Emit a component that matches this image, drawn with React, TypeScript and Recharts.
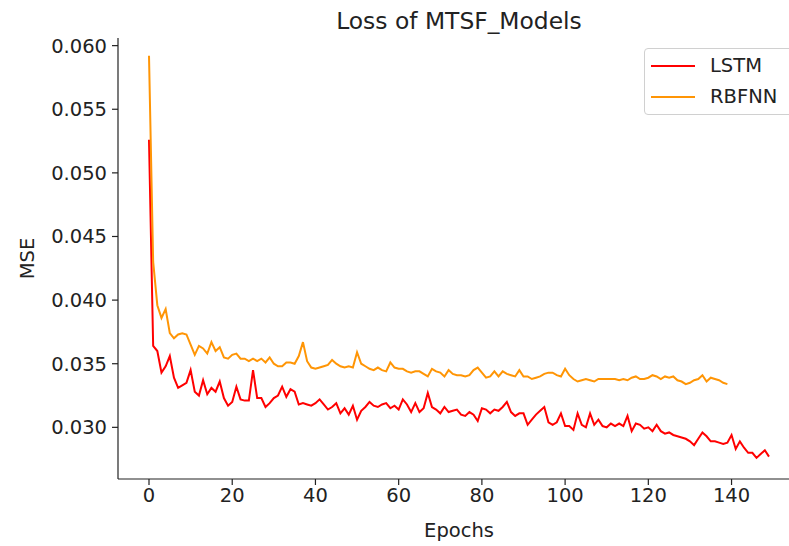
import React from "react";
import { LineChart, Line, XAxis, YAxis } from "recharts";

const lstm: number[] = [
  0.0526, 0.0364, 0.036, 0.0343, 0.0348, 0.0356, 0.0339, 0.0331, 0.0333, 0.0335,
  0.0345, 0.0328, 0.0325, 0.0337, 0.0326, 0.0331, 0.0328, 0.0336, 0.0323, 0.0317,
  0.032, 0.0332, 0.0322, 0.0321, 0.0321, 0.0345, 0.0323, 0.0323, 0.0316, 0.0319,
  0.0323, 0.0325, 0.0332, 0.0324, 0.033, 0.0328, 0.0318, 0.0319, 0.0318, 0.0317,
  0.0319, 0.0322, 0.0318, 0.0314, 0.0316, 0.0319, 0.0311, 0.0315, 0.031, 0.0317,
  0.0306, 0.0313, 0.0316, 0.032, 0.0317, 0.0316, 0.0318, 0.0319, 0.0315, 0.0317,
  0.0314, 0.0322, 0.0318, 0.0312, 0.0319, 0.0312, 0.0315, 0.0327, 0.0316, 0.0314,
  0.0311, 0.0316, 0.0312, 0.0313, 0.0314, 0.031, 0.0309, 0.0312, 0.031, 0.0305,
  0.0315, 0.0314, 0.0311, 0.0314, 0.0313, 0.0316, 0.032, 0.0312, 0.0309, 0.0311,
  0.0311, 0.0302, 0.0306, 0.031, 0.0313, 0.0316, 0.0304, 0.0302, 0.0304, 0.0311,
  0.0301, 0.0301, 0.0298, 0.0311, 0.0302, 0.03, 0.0311, 0.0302, 0.0306, 0.0301,
  0.03, 0.0303, 0.0301, 0.0303, 0.0301, 0.0309, 0.0297, 0.0303, 0.0302, 0.0299,
  0.03, 0.0297, 0.0302, 0.0297, 0.0295, 0.0296, 0.0294, 0.0293, 0.0292, 0.0291,
  0.0289, 0.0286, 0.0291, 0.0296, 0.0293, 0.0289, 0.0289, 0.0288, 0.0287, 0.0288,
  0.0294, 0.0283, 0.0289, 0.0284, 0.028, 0.028, 0.0276, 0.0279, 0.0282, 0.0277,
];

const rbfnn: number[] = [
  0.0592, 0.043, 0.0396, 0.0386, 0.0393, 0.0374, 0.037, 0.0373, 0.0374, 0.0373,
  0.0365, 0.0357, 0.0364, 0.0362, 0.0358, 0.0367, 0.036, 0.0363, 0.0355, 0.0354,
  0.0357, 0.0358, 0.0354, 0.0354, 0.0352, 0.0354, 0.0352, 0.0354, 0.0351, 0.0355,
  0.035, 0.0348, 0.0348, 0.0351, 0.0351, 0.035, 0.0356, 0.0367, 0.0352, 0.0347,
  0.0346, 0.0347, 0.0348, 0.0349, 0.0353, 0.035, 0.0348, 0.0347, 0.0348, 0.0347,
  0.0359, 0.035, 0.0348, 0.0346, 0.0345, 0.0347, 0.0345, 0.0344, 0.0351, 0.0347,
  0.0346, 0.0346, 0.0344, 0.0343, 0.0344, 0.0344, 0.0342, 0.034, 0.0346, 0.0344,
  0.0343, 0.034, 0.0345, 0.0342, 0.0341, 0.0341, 0.034, 0.0341, 0.0345, 0.0347,
  0.0343, 0.0339, 0.034, 0.0344, 0.034, 0.0344, 0.0342, 0.0341, 0.034, 0.0345,
  0.034, 0.034, 0.0338, 0.0339, 0.034, 0.0342, 0.0343, 0.0343, 0.0341, 0.034,
  0.0346, 0.0341, 0.0338, 0.0336, 0.0337, 0.0338, 0.0337, 0.0336, 0.0338, 0.0338,
  0.0338, 0.0338, 0.0338, 0.0337, 0.0338, 0.0337, 0.0339, 0.034, 0.0338, 0.0338,
  0.0339, 0.0341, 0.034, 0.0338, 0.034, 0.0339, 0.034, 0.0337, 0.0336, 0.0334,
  0.0335, 0.0337, 0.0338, 0.0341, 0.0336, 0.0339, 0.0338, 0.0337, 0.0335, 0.0334,
];

const xTicks = [0, 20, 40, 60, 80, 100, 120, 140];
const yTicks = [0.03, 0.035, 0.04, 0.045, 0.05, 0.055, 0.06];

const data = lstm.map((v, i) => ({
  epoch: i,
  lstm: v,
  rbfnn: i < rbfnn.length ? rbfnn[i] : null,
}));

const FONT = "'DejaVu Sans', sans-serif";
const FS = 19.5;
const RED = "#ff0000";
const ORANGE = "#ff9505";
const AX = "#222";

export default function App() {
  return (
    <div
      style={{
        position: "absolute",
        left: 0,
        top: 0,
        width: 789,
        height: 546,
        overflow: "hidden",
        background: "#fff",
        fontFamily: FONT,
      }}
    >
      <LineChart
        width={812}
        height={546}
        data={data}
        margin={{ top: 38, right: 12, bottom: 7, left: 48 }}
      >
        <XAxis
          xAxisId="top"
          orientation="top"
          type="number"
          dataKey="epoch"
          domain={[-7.45, 156.45]}
          allowDataOverflow
          height={0}
          tick={false}
          tickLine={false}
          axisLine={{ stroke: AX, strokeWidth: 1.2 }}
        />
        <XAxis
          type="number"
          dataKey="epoch"
          domain={[-7.45, 156.45]}
          allowDataOverflow
          ticks={xTicks}
          height={60}
          tickSize={6}
          tickMargin={3}
          tick={{ fill: "#222", fontSize: FS, fontFamily: FONT }}
          axisLine={{ stroke: AX, strokeWidth: 1.2 }}
          tickLine={{ stroke: AX, strokeWidth: 1.2 }}
          label={{
            value: "Epochs",
            position: "insideBottom",
            offset: 2,
            fill: "#222",
            fontSize: FS,
            fontFamily: FONT,
          }}
        />
        <YAxis
          type="number"
          domain={[0.02594, 0.0606]}
          allowDataOverflow
          ticks={yTicks}
          width={70}
          tickSize={6}
          tickMargin={5}
          tickFormatter={(v: number) => v.toFixed(3)}
          tick={{ fill: "#222", fontSize: FS, fontFamily: FONT }}
          axisLine={{ stroke: AX, strokeWidth: 1.2 }}
          tickLine={{ stroke: AX, strokeWidth: 1.2 }}
          label={{
            value: "MSE",
            angle: -90,
            position: "insideLeft",
            offset: -21,
            fill: "#222",
            fontSize: FS,
            fontFamily: FONT,
            style: { textAnchor: "middle" },
          }}
        />
        <Line
          type="linear"
          dataKey="lstm"
          stroke={RED}
          strokeWidth={2}
          dot={false}
          isAnimationActive={false}
          connectNulls={false}
        />
        <Line
          type="linear"
          dataKey="rbfnn"
          stroke={ORANGE}
          strokeWidth={2}
          dot={false}
          isAnimationActive={false}
          connectNulls={false}
        />
      </LineChart>
      <div
        style={{
          position: "absolute",
          left: 118,
          width: 682,
          top: 6,
          textAlign: "center",
          fontSize: 23.4,
          color: "#222",
          lineHeight: "30px",
        }}
      >
        Loss of MTSF_Models
      </div>
      <div
        style={{
          position: "absolute",
          left: 644,
          top: 48,
          width: 150,
          height: 67,
          border: "1px solid #d0d0d0",
          borderRadius: 4,
          background: "rgba(255,255,255,0.85)",
          boxSizing: "border-box",
        }}
      >
        {[
          { name: "LSTM", color: RED, y: 17 },
          { name: "RBFNN", color: ORANGE, y: 48 },
        ].map((e) => (
          <div key={e.name}>
            <div
              style={{
                position: "absolute",
                left: 6,
                top: e.y - 1,
                width: 44,
                height: 2,
                background: e.color,
              }}
            />
            <div
              style={{
                position: "absolute",
                left: 65,
                top: e.y - 13,
                fontSize: FS,
                lineHeight: "26px",
                color: "#222",
              }}
            >
              {e.name}
            </div>
          </div>
        ))}
      </div>
    </div>
  );
}
